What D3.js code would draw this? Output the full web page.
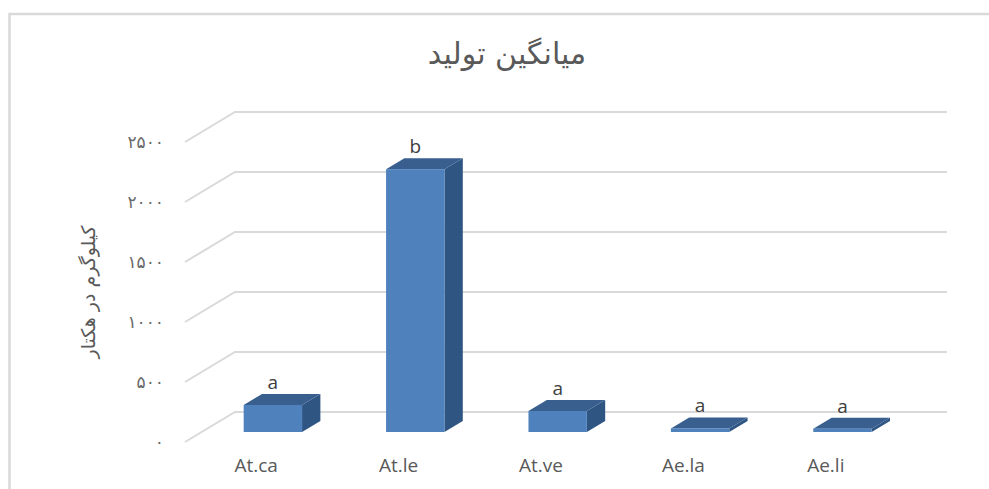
<!DOCTYPE html>
<html>
<head>
<meta charset="utf-8">
<script src="https://cdn.jsdelivr.net/npm/d3@7"></script>
<style>
  body { margin: 0; background: #fff; }
</style>
</head>
<body>
<svg id="grafica"></svg>
<script>
const svg_w = 989;
const svg_h = 489;

// datos
const categorias = ["At.ca", "At.le", "At.ve", "Ae.la", "Ae.li"];
const valores = [225, 2190, 175, 30, 28];
const letras = ["a", "b", "a", "a", "a"];
const y_ticks = [0, 500, 1000, 1500, 2000, 2500];
const titulo = "میانگین تولید";
const eje_y = "کیلوگرم در هکتار";

// geometría del piso 3D
const front = {l: 185, r: 897, b: 442, t: 142};
const depth = {dx: 50, dy: -30};
const bar_front = 1/3, bar_back = 0.7; // fracción de la profundidad

const fa = d => String(d).replace(/\d/g, c => "۰۱۲۳۴۵۶۷۸۹"[+c]);

let svg = d3.select("#grafica")
  .attr("width", svg_w)
  .attr("height", svg_h);

// borde del gráfico
svg.append("rect")
  .attr("x", 9.5).attr("y", 14)
  .attr("width", 1000).attr("height", 500)
  .attr("fill", "none")
  .attr("stroke", "#d9d9d9")
  .attr("stroke-width", 2.5);

let x_scale = d3.scaleBand()
  .domain(categorias)
  .range([front.l, front.r])
  .paddingInner(0.59)
  .paddingOuter(0.295);

let y_scale = d3.scaleLinear()
  .domain([0, 2500])
  .range([front.b, front.t]);

// líneas de cuadrícula (pared izquierda + pared de fondo)
let grid = svg.append("g")
  .attr("stroke", "#d9d9d9")
  .attr("stroke-width", 2)
  .attr("fill", "none");

grid.selectAll("path")
  .data(y_ticks)
  .enter()
  .append("path")
  .attr("d", d => {
    let y = y_scale(d);
    return `M${front.l},${y}L${front.l + depth.dx},${y + depth.dy}H${front.r + depth.dx}`;
  });

// etiquetas del eje y
svg.append("g")
  .selectAll("text")
  .data(y_ticks)
  .enter()
  .append("text")
  .attr("x", 164)
  .attr("y", d => y_scale(d))
  .attr("dy", "0.35em")
  .attr("text-anchor", "end")
  .attr("font-family", "DejaVu Sans")
  .attr("font-size", 17)
  .attr("letter-spacing", 2)
  .attr("fill", "#6a6a6a")
  .text(d => fa(d));

// barras 3D
const ox = depth.dx * bar_front, oy = depth.dy * bar_front;
const bx = depth.dx * (bar_back - bar_front), by = depth.dy * (bar_back - bar_front);
const base = y_scale(0) + oy;
const bw = x_scale.bandwidth();

let bars = svg.append("g")
  .selectAll("g")
  .data(categorias.map((c, i) => ({cat: c, val: valores[i], letra: letras[i]})))
  .enter()
  .append("g")
  .attr("transform", d => `translate(${x_scale(d.cat) + ox},0)`);

// cara lateral
bars.append("path")
  .attr("fill", "#2f5583")
  .attr("d", d => {
    let top = y_scale(d.val) + oy;
    return `M${bw},${base}L${bw},${top}L${bw + bx},${top + by}L${bw + bx},${base + by}Z`;
  });

// cara superior
bars.append("path")
  .attr("fill", "#395f8f")
  .attr("d", d => {
    let top = y_scale(d.val) + oy;
    return `M0,${top}L${bx},${top + by}L${bw + bx},${top + by}L${bw},${top}Z`;
  });

// cara frontal
bars.append("rect")
  .attr("x", 0)
  .attr("y", d => y_scale(d.val) + oy)
  .attr("width", bw)
  .attr("height", d => base - (y_scale(d.val) + oy))
  .attr("fill", "#4f81bd");

// letras de significancia
bars.append("text")
  .attr("x", bw / 2)
  .attr("y", d => y_scale(d.val) + oy + by - 5)
  .attr("text-anchor", "middle")
  .attr("font-family", "Open Sans")
  .attr("font-size", 19)
  .attr("fill", "#404040")
  .text(d => d.letra);

// etiquetas del eje x
svg.append("g")
  .selectAll("text")
  .data(categorias)
  .enter()
  .append("text")
  .attr("x", d => x_scale(d) + bw / 2)
  .attr("y", 472)
  .attr("text-anchor", "middle")
  .attr("font-family", "Open Sans")
  .attr("font-size", 19)
  .attr("fill", "#595959")
  .text(d => d);

// título
svg.append("text")
  .attr("x", 507)
  .attr("y", 64)
  .attr("text-anchor", "middle")
  .attr("font-family", "DejaVu Sans")
  .attr("font-size", 30)
  .attr("fill", "#595959")
  .text(titulo);

// título del eje y
svg.append("text")
  .attr("transform", "translate(88,292) rotate(-90)")
  .attr("dy", "0.35em")
  .attr("text-anchor", "middle")
  .attr("font-family", "DejaVu Sans")
  .attr("font-size", 19)
  .attr("fill", "#595959")
  .text(eje_y);
</script>
</body>
</html>
